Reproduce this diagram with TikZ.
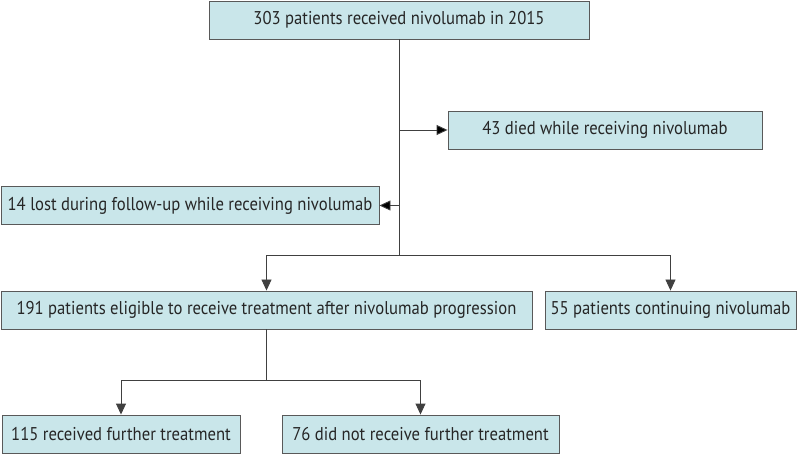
\documentclass[tikz,border=0pt]{standalone}
\usepackage{fontspec}
\setmainfont{PT Sans}[FakeStretch=0.9]
\usetikzlibrary{arrows.meta}
\definecolor{boxfill}{HTML}{C9E6EA}

\begin{document}
\begin{tikzpicture}[x=1pt,y=-1pt,>={Triangle[length=11pt,width=10pt]},
  flowbox/.style={draw=black!65,fill=boxfill,line width=0.9pt,
    minimum height=38pt,inner sep=0pt,font=\fontsize{18.5}{22}\selectfont,text=black!85},
  link/.style={draw=black!75,line width=0.9pt}]
  \useasboundingbox (0,0) rectangle (798,454);

  \node[flowbox, minimum width=380pt] (start)     at (399,20)    {303 patients received nivolumab in 2015};
  \node[flowbox, minimum width=314pt] (died)      at (605,130)   {43 died while receiving nivolumab};
  \node[flowbox, minimum width=378pt] (lost)      at (190,205.5) {14 lost during follow-up while receiving nivolumab};
  \node[flowbox, minimum width=531pt] (eligible)  at (266.5,310) {191 patients eligible to receive treatment after nivolumab progression};
  \node[flowbox, minimum width=251pt] (cont)      at (670.5,310) {55 patients continuing nivolumab};
  \node[flowbox, minimum width=238pt] (further)   at (121,434)   {115 received further treatment};
  \node[flowbox, minimum width=277pt] (nofurther) at (420.5,434) {76 did not receive further treatment};

  \coordinate (split)  at (399,255);
  \coordinate (split2) at (266.5,380);

  \path[link]
  (start.south) edge (split)
  (start.south |- died.west) edge[->] (died.west)
  (start.south |- lost.east) edge[->] (lost.east);
  \draw[link,->] (split) -| (eligible.north);
  \draw[link,->] (split) -| (cont.north);

  \draw[link] (eligible.south) -- (split2);
  \draw[link,->] (split2) -| (further.north);
  \draw[link,->] (split2) -| (nofurther.north);
\end{tikzpicture}
\end{document}
